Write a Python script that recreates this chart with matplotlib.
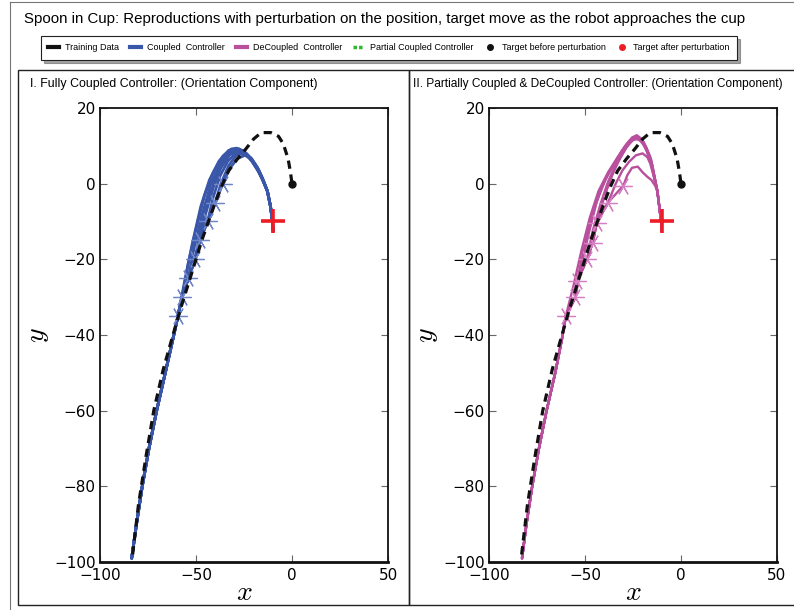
import matplotlib
matplotlib.use('Agg')
import matplotlib.pyplot as plt
from matplotlib.lines import Line2D
from matplotlib.patches import Rectangle
import numpy as np

plt.rcParams['mathtext.fontset'] = 'cm'

# ── Data ──────────────────────────────────────────────────────────────
# training demonstration (same in both panels)
train_x = [-83, -80, -76, -72, -67, -62, -58, -54, -50, -47, -43.5, -40, -36.5,
           -33, -28.5, -24, -20, -16, -11, -7, -4.5, -2, -0.8, 0]
train_y = [-98, -85, -72, -60, -49, -40, -33, -26.5, -20, -15, -10, -5, -0.5,
           3.4, 6.5, 9.2, 11.8, 13.5, 13.5, 12.5, 10.5, 6.5, 3, 0]

target_before = (0, 0)
target_after = (-10, -10)

# fully coupled controller: shared start, perturbation points (asterisks)
cpl_start_x = [-83.5, -81, -78, -74.5, -70.5, -66, -62]
cpl_start_y = [-99, -90, -80, -70, -60, -50, -41]
cpl_pert_x = [-59.4, -57.3, -54, -50.5, -48, -44, -40, -36]
cpl_pert_y = [-35, -30, -25, -20, -15, -10, -5, 0]
cpl_paths = [
    ([-56, -52, -47.5, -43, -38, -33, -29, -25, -21, -17.5, -15],
     [-26, -16, -6, 1, 6, 8.8, 9.4, 8.6, 6.6, 3.8, 1]),
    ([-54, -50, -45.5, -41, -36, -31.5, -27.5, -23.5, -19.5, -16.5, -14.5],
     [-21, -12, -3, 3, 7.3, 9.2, 9.2, 7.8, 5.2, 2.5, 0.3]),
    ([-51, -47, -42.5, -38, -33, -29, -25, -21, -17.5, -15],
     [-17, -8.5, -0.5, 4.8, 8.2, 9, 8.2, 6, 3.2, 0.6]),
    ([-47.5, -43.5, -39, -34.5, -30, -26, -22, -18.5, -15.5],
     [-12, -4, 2.5, 6.8, 8.7, 8.6, 6.8, 4.2, 1.3]),
    ([-45, -41, -37, -32.5, -28, -24, -20.5, -17, -14.8],
     [-8, -1, 4.2, 7.6, 8.7, 8, 5.8, 3, 0.5]),
    ([-41, -37.5, -33.5, -29, -25, -21, -17.5, -15],
     [-3.5, 2, 5.9, 8.2, 8.2, 6.3, 3.5, 0.8]),
    ([-37, -33, -29, -25, -21.5, -18.5, -16, -14.3],
     [0, 4.8, 7.5, 8, 6.8, 4.6, 2, -0.2]),
    ([-32.5, -28.5, -24.5, -21, -18, -15.5],
     [4, 6.6, 7.5, 6.5, 4.3, 1.6]),
]
cpl_tail_x = [-12.8, -11.2, -10.3, -9.8]
cpl_tail_y = [-2, -6, -9.5, -12.5]

# decoupled controller
dec_start_x = [-82.8, -80.5, -77.5, -74, -70, -65.5, -62]
dec_start_y = [-99, -90, -80, -70, -60, -50, -41]
dec_pert_x = [-60, -55, -54, -49, -46, -44, -38, -30]
dec_pert_y = [-35, -30, -25.7, -20, -15.6, -10.5, -5, -0.5]
dec_paths = [
    ([-56, -52, -47.5, -43, -38, -33, -29, -25.5, -23, -20.5, -18, -15.5],
     [-27, -18, -9, -2, 3, 7, 10, 12.2, 12.8, 11.8, 9.5, 6.3]),
    ([-52, -48, -44, -39.5, -35, -31, -27, -23.5, -21, -18.5, -16],
     [-22, -13, -5, 1, 5, 8.5, 11.3, 12.6, 12, 10, 7]),
    ([-51, -47, -42.5, -37.5, -33, -29, -25.5, -22.5, -19.5, -17, -15.5],
     [-18, -9.5, -2.5, 3, 6.8, 10, 12, 12.4, 11, 8, 5.5]),
    ([-46, -42, -38, -34, -30, -26, -23, -20, -17.5, -15.5],
     [-12.5, -5.5, 0.5, 5, 8.8, 11.6, 12.3, 11, 8.5, 5.5]),
    ([-43, -39, -35, -31, -27, -23.5, -20.5, -18, -15.8],
     [-8.5, -2, 3.5, 7.5, 10.8, 12, 11.2, 8.8, 5.8]),
    ([-40.5, -36.5, -32.5, -28.5, -25, -22, -19, -16.5, -15],
     [-4, 1.5, 6, 9.5, 11.6, 11.8, 10, 7, 5]),
    ([-34, -30.5, -27, -23.5, -20, -17.5, -16, -14.5],
     [0, 3.5, 5.8, 7.5, 8, 7, 5.3, 2.5]),
    ([-28, -25.5, -22.5, -20, -17.5, -15.5, -13.5],
     [2.2, 4.2, 4.5, 3, 1.8, 1, -0.5]),
]
dec_tail_x = [-12.3, -11.2, -10.4, -10]
dec_tail_y = [-2, -6.5, -9.8, -12.5]

# ── Styles ────────────────────────────────────────────────────────────
BLUE = '#3a56a8'
BLUE_L = '#6f86c8'
MAG = '#b8509e'
MAG_L = '#d67fc2'
RED = '#ee1c25'
GREEN = '#2db82d'
TXT_FONT = ['Liberation Sans', 'DejaVu Sans']

W, H = 794, 610
fig = plt.figure(figsize=(W / 100, H / 100), dpi=100, facecolor='white')


def fx(px):
    return px / W


def fy(py):
    return 1 - py / H


ax1 = fig.add_axes([fx(100), fy(562), (388 - 100) / W, (562 - 108) / H])
ax2 = fig.add_axes([fx(489), fy(562), (777 - 489) / W, (562 - 108) / H])


def draw_panel(ax, start_x, start_y, pert_x, pert_y, paths, tail_x, tail_y,
               col, col_l, lw):
    base_x = list(start_x) + list(pert_x)
    base_y = list(start_y) + list(pert_y)
    n0 = len(start_x)
    for k, (px_, py_) in enumerate(paths):
        xs = base_x[:n0 + k + 1] + list(px_) + list(tail_x)
        ys = base_y[:n0 + k + 1] + list(py_) + list(tail_y)
        ax.plot(xs, ys, color=col, lw=lw, solid_capstyle='round',
                solid_joinstyle='round', zorder=2)
    ax.plot(pert_x, pert_y, linestyle='none', marker=(6, 2, 90),
            markersize=13, markeredgecolor=col_l, markeredgewidth=0.9,
            zorder=3)
    ax.plot(train_x, train_y, color='#111111', lw=2.3,
            linestyle=(0, (2.6, 1.8)), zorder=4)
    ax.plot(*target_before, 'o', color='#111111', markersize=5, zorder=5)
    ax.plot(*target_after, '+', color=RED, markersize=17,
            markeredgewidth=2.6, zorder=6)

    ax.set_xlim(-100, 50)
    ax.set_ylim(-100, 20)
    ax.set_xticks([-100, -50, 0, 50])
    ax.set_yticks([-100, -80, -60, -40, -20, 0, 20])
    ax.tick_params(direction='in', length=5, width=0.8, color='#666666',
                   top=True, right=True, labelsize=11, pad=3)
    ax.tick_params(axis='x', pad=4)
    for sp in ax.spines.values():
        sp.set_linewidth(1.3)
        sp.set_color('#111111')
    ax.spines['bottom'].set_linewidth(2)
    ax.set_xlabel('$x$', fontsize=20, labelpad=-3)
    ax.set_ylabel('$y$', fontsize=20, labelpad=2)


draw_panel(ax1, cpl_start_x, cpl_start_y, cpl_pert_x, cpl_pert_y, cpl_paths,
           cpl_tail_x, cpl_tail_y, BLUE, BLUE_L, 2.0)
draw_panel(ax2, dec_start_x, dec_start_y, dec_pert_x, dec_pert_y, dec_paths,
           dec_tail_x, dec_tail_y, MAG, MAG_L, 1.7)

# ── Panel frames ──────────────────────────────────────────────────────
fig.add_artist(Rectangle((fx(18), fy(605)), fx(409 - 18), (605 - 70) / H,
                         transform=fig.transFigure, fill=False,
                         edgecolor='#222222', lw=1.0))
fig.add_artist(Rectangle((fx(409), fy(605)), fx(800 - 409), (605 - 70) / H,
                         transform=fig.transFigure, fill=False,
                         edgecolor='#222222', lw=1.0))
fig.add_artist(Line2D([fx(10), fx(10)], [0, fy(2)], transform=fig.transFigure,
                      color='#777777', lw=0.8))
fig.add_artist(Line2D([fx(10), 1], [fy(2), fy(2)], transform=fig.transFigure,
                      color='#777777', lw=0.8))

# ── Texts ─────────────────────────────────────────────────────────────
fig.text(fx(24), fy(19),
         'Spoon in Cup: Reproductions with perturbation on the position, '
         'target move as the robot approaches the cup',
         fontsize=10.85, family=TXT_FONT, va='center', ha='left')
fig.text(fx(30), fy(84), 'I. Fully Coupled Controller: (Orientation Component)',
         fontsize=8.9, family=TXT_FONT, va='center', ha='left')
fig.text(fx(413), fy(84),
         'II. Partially Coupled & DeCoupled Controller: (Orientation Component)',
         fontsize=8.55, family=TXT_FONT, va='center', ha='left')

# ── Legend ────────────────────────────────────────────────────────────
handles = [
    Line2D([], [], color='#111111', lw=3),
    Line2D([], [], color=BLUE, lw=3),
    Line2D([], [], color=MAG, lw=3),
    Line2D([], [], color=GREEN, lw=2.5, linestyle=(0, (1, 0.6))),
    Line2D([], [], color='#111111', marker='o', markersize=4, linestyle='none'),
    Line2D([], [], color=RED, marker='o', markersize=4, linestyle='none'),
]
labels = ['Training Data', 'Coupled  Controller', 'DeCoupled  Controller',
          'Partial Coupled Controller', 'Target before perturbation',
          'Target after perturbation']
leg = fig.legend(handles, labels, loc='center', bbox_to_anchor=(fx(389), fy(48)),
                 ncol=6, frameon=True, fancybox=False,
                 shadow=True, edgecolor='#222222', handlelength=1.2,
                 handletextpad=0.7, columnspacing=1.2, borderpad=0.8,
                 prop={'family': TXT_FONT, 'size': 6.5})
leg.get_frame().set_linewidth(0.8)

fig.savefig('out.png', dpi=100, facecolor='white')
